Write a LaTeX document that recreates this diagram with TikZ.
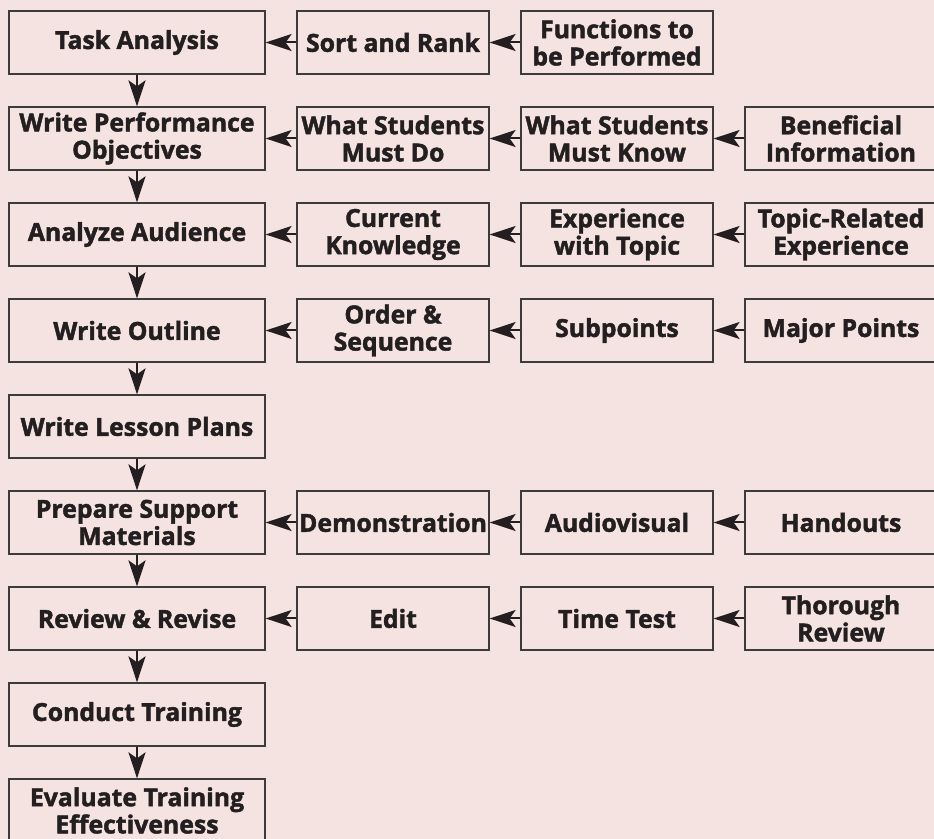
\documentclass[tikz,border=0pt]{standalone}
\usepackage{fontspec}
\setmainfont{Open Sans}[BoldFeatures={FakeBold=1.8}]
\usetikzlibrary{arrows.meta}

\definecolor{bgpink}{HTML}{F5E3E1}
\definecolor{inkdark}{HTML}{231F20}
\definecolor{edgegray}{HTML}{3C3A3B}

\begin{document}
\begin{tikzpicture}[x=0.5pt, y=-0.5pt,
    box/.style={draw=edgegray, line width=0.65pt, text=inkdark, align=center,
      inner sep=0pt, minimum height=31.5pt,
      font=\fontsize{12.4}{13.6}\selectfont\bfseries},
    mainbox/.style={box, minimum width=128pt},
    sidebox/.style={box, minimum width=96pt},
    arr/.style={draw=inkdark, line width=1pt,
      -{Stealth[length=13pt, width=8.5pt, inset=3pt]}}]

  \path[use as bounding box, fill=bgpink] (0,0) rectangle (934,839);
  \clip (0,0) rectangle (934,839);

  % Row 1
  \node[mainbox] (task)  at (137,42.5) {Task Analysis};
  \node[sidebox] (sort)  at (393,42.5) {Sort and Rank};
  \node[sidebox] (funcs) at (617,42.5) {Functions to\\be Performed};

  % Row 2
  \node[mainbox] (objs)    at (137,138.5) {Write Performance\\Objectives};
  \node[sidebox] (mustdo)  at (393,138.5) {What Students\\Must Do};
  \node[sidebox] (mustknw) at (617,138.5) {What Students\\Must Know};
  \node[sidebox] (benef)   at (841,138.5) {Beneficial\\Information};

  % Row 3
  \node[mainbox] (aud)    at (137,234.5) {Analyze Audience};
  \node[sidebox] (curr)   at (393,234.5) {Current\\Knowledge};
  \node[sidebox] (exper)  at (617,234.5) {Experience\\with Topic};
  \node[sidebox] (topic)  at (841,234.5) {Topic-Related\\Experience};

  % Row 4
  \node[mainbox] (outline) at (137,330.5) {Write Outline};
  \node[sidebox] (order)   at (393,330.5) {Order \&\\Sequence};
  \node[sidebox] (subpts)  at (617,330.5) {Subpoints};
  \node[sidebox] (major)   at (841,330.5) {Major Points};

  % Row 5
  \node[mainbox] (lesson) at (137,426.5) {Write Lesson Plans};

  % Row 6
  \node[mainbox] (support) at (137,522.5) {Prepare Support\\Materials};
  \node[sidebox] (demo)    at (393,522.5) {Demonstration};
  \node[sidebox] (av)      at (617,522.5) {Audiovisual};
  \node[sidebox] (hand)    at (841,522.5) {Handouts};

  % Row 7
  \node[mainbox] (revise) at (137,618.5) {Review \& Revise};
  \node[sidebox] (edit)   at (393,618.5) {Edit};
  \node[sidebox] (timet)  at (617,618.5) {Time Test};
  \node[sidebox] (thor)   at (841,618.5) {Thorough\\Review};

  % Row 8
  \node[mainbox] (conduct) at (137,714.5) {Conduct Training};

  % Row 9
  \node[mainbox] (evalu) at (137,810.5) {Evaluate Training\\Effectiveness};

  % main sequence
  \foreach \a/\b in {task/objs, objs/aud, aud/outline, outline/lesson,
                     lesson/support, support/revise, revise/conduct, conduct/evalu}
    \draw[arr] (\a.south) -- (\b.north);

  % feeders from the right
  \foreach \a/\b in {sort/task, funcs/sort,
                     mustdo/objs, mustknw/mustdo, benef/mustknw,
                     curr/aud, exper/curr, topic/exper,
                     order/outline, subpts/order, major/subpts,
                     demo/support, av/demo, hand/av,
                     edit/revise, timet/edit, thor/timet}
    \draw[arr] (\a.west) -- (\b.east);
\end{tikzpicture}
\end{document}
